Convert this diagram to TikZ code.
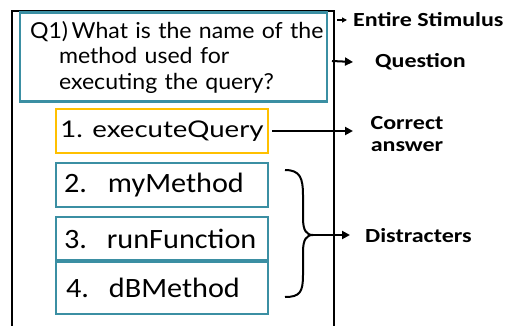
\documentclass[tikz,border=0pt]{standalone}
\usepackage{fontspec}
\setmainfont{Carlito}[FakeStretch=1.08]
\newfontfamily\gillish{Lato}[FakeStretch=1.05]
\newfontfamily\gillwide{Lato}[FakeStretch=1.2]
\newfontfamily\lblfont{Carlito}[FakeStretch=1.2]
\usetikzlibrary{arrows.meta}
\definecolor{tealb}{HTML}{3B8FA3}
\definecolor{orangeb}{HTML}{FFC000}
\tikzset{
  x=1pt,y=-1pt,
  optbox/.style={draw=tealb,line width=2.2pt,fill=white,minimum width=212pt,inner sep=0pt,
    text width=196pt,align=left,font=\fontsize{28}{30}\selectfont},
  lbl/.style={font=\lblfont\bfseries\fontsize{20}{22}\selectfont,inner sep=0pt},
  arr/.style={line width=2pt,-{Triangle[length=8pt,width=8pt]}},
}
\begin{document}
\begin{tikzpicture}
\useasboundingbox (0,0) rectangle (508,326);
\clip (0,0) rectangle (508,326);
% outer frame
\coordinate (fbl) at (12,340);
\coordinate (ftl) at (12,11);
\coordinate (ftr) at (334,11);
\coordinate (fbr) at (334,340);
\draw[line width=2pt] (fbl) -- (ftl) -- (ftr) -- (fbr);
% question
\node[draw=tealb,line width=2.2pt,fill=white,minimum width=307pt,minimum height=89pt,
  text width=305pt,inner xsep=0pt,align=left,
  font=\gillish\fontsize{22}{25.5}\selectfont] (q) at (173.5,57)
  {\hspace*{9pt}Q1)\,What is the name of the\\\hspace*{38pt}method used for\\\hspace*{38pt}executing the query?};
% options
\node[optbox,draw=orangeb,minimum height=44pt,text width=,align=center,
  font=\gillwide\fontsize{23}{25}\selectfont] (a1) at (162,131) {1. executeQuery};
\node[optbox,minimum height=44pt] (a2) at (162,185) {2.\hspace{21pt}myMethod};
\node[optbox,minimum height=43pt] (a3) at (162,238.5) {\raisebox{-2pt}{3.\hspace{20pt}runFunction}};
\node[optbox,minimum height=52pt] (a4) at (162,288) {\raisebox{-4pt}{\hspace*{2pt}4.\hspace{20pt}dBMethod}};
% labels
\node[lbl,anchor=west] (ls) at (353,20) {Entire Stimulus};
\node[lbl,anchor=west] (lq) at (375,62) {Question};
\node[lbl,align=center] (lc) at (407,134) {Correct\\answer};
\node[lbl,anchor=west] (ld) at (365,236) {Distracters};
% arrows
\coordinate (s0) at (337,20);
\draw[line width=1.2pt,-{Triangle[length=5pt,width=5pt]}] (s0) -- ([xshift=-6pt]ls.west);
\coordinate (q0) at (332,61);
\draw[arr] (q0) -- ([xshift=-22pt]lq.west);
\coordinate (c1) at (353,131);
\draw[arr] (a1.east) ++(3,0) -- (c1);
% brace
\coordinate (bt) at (285,170);
\coordinate (bb) at (285,297);
\coordinate (btip) at (313,235);
\draw[line width=2pt] (bt) .. controls (300,170) and (303,178) .. (303,195)
  -- (303,218) .. controls (303,230) and (306,235) .. (btip)
  .. controls (306,235) and (303,240) .. (303,252)
  -- (303,275) .. controls (303,292) and (300,297) .. (bb);
\coordinate (d1) at (350,235);
\draw[arr] (btip) -- (d1);
\end{tikzpicture}
\end{document}
